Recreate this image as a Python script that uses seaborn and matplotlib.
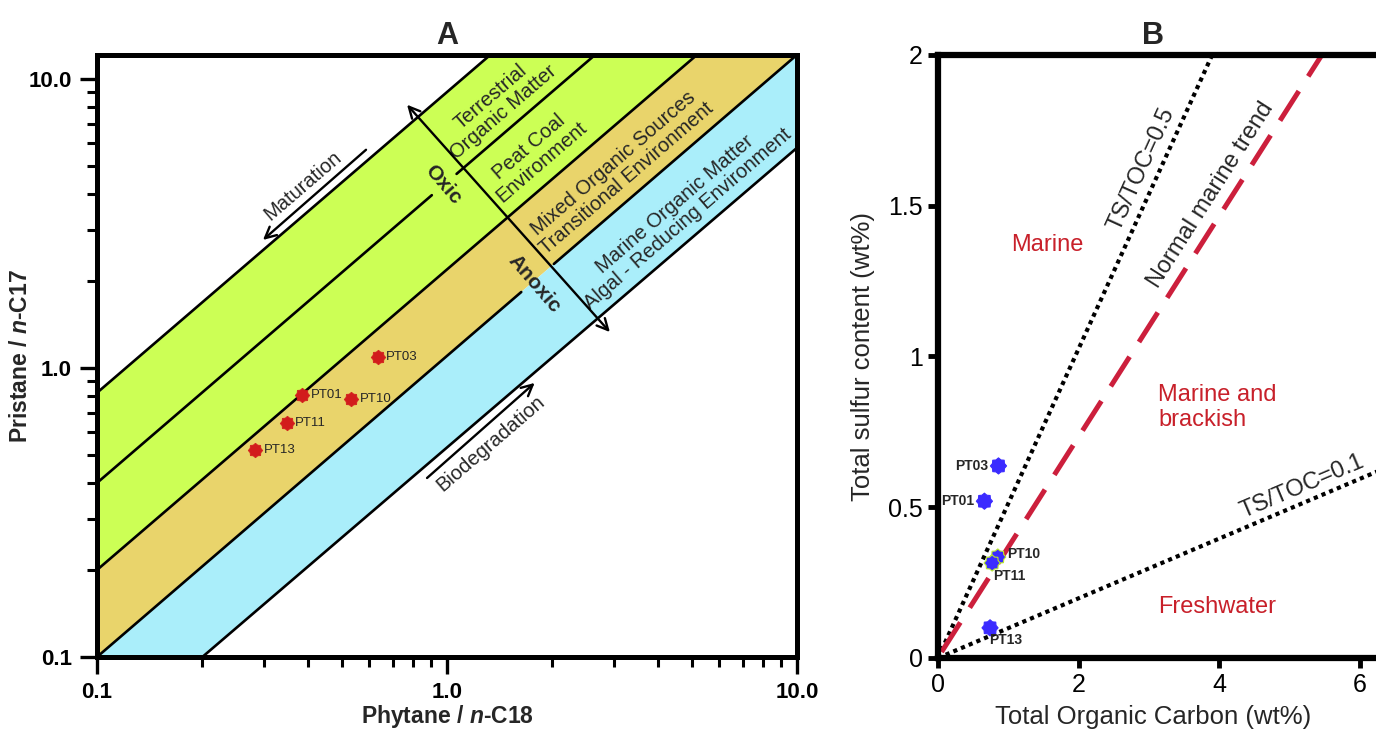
import numpy as np
import matplotlib
matplotlib.use("Agg")
import matplotlib.pyplot as plt
from matplotlib.path import Path
from matplotlib.ticker import LogLocator, NullFormatter
import seaborn as sns

# ---- Panel A: Pr/n-C17 vs Ph/n-C18 ----
samplesA = ["PT03", "PT01", "PT10", "PT11", "PT13"]
phytaneC18 = [0.635, 0.386, 0.532, 0.349, 0.283]
pristaneC17 = [1.09, 0.806, 0.782, 0.646, 0.520]

# zone boundaries, straight lines in log-log space (start / end points)
boundX0 = [0.1, 0.1, 0.1, 0.1, 0.2]
boundY0 = [0.82, 0.40, 0.20, 0.10, 0.10]
boundX1 = [1.33, 2.65, 5.18, 10.0, 10.0]
boundY1 = [12.1, 12.1, 12.1, 12.1, 5.77]

zoneLabels = [
    "Terrestrial\nOrganic Matter",
    "Peat Coal\nEnvironment",
    "Mixed Organic Sources\nTransitional Environment",
    "Marine Organic Matter\nAlgal - Reducing Environment",
]
zoneLabelX = [1.39, 1.79, 3.12, 4.66]
zoneLabelY = [8.13, 5.47, 4.82, 3.48]

ticksA = [0.1, 1.0, 10.0]
tickLabelsA = ["0.1", "1.0", "10.0"]

# ---- Panel B: TS vs TOC ----
samplesB = ["PT03", "PT01", "PT10", "PT11", "PT13"]
tocWt = [0.86, 0.66, 0.85, 0.77, 0.74]
tsWt = [0.637, 0.52, 0.335, 0.315, 0.10]

ts05X = [0.0, 3.9]
ts05Y = [0.0, 2.0]
marineX = [0.05, 5.46]
marineY = [0.02, 2.0]
ts01X = [0.0, 7.0]
ts01Y = [0.0, 0.693]

ticksBx = [0, 2, 4, 6]
ticksBy = [0, 0.5, 1, 1.5, 2]
tickLabelsBy = ["0", "0.5", "1", "1.5", "2"]

GREEN = "#ccff55"
ORANGE = "#e9d46b"
BLUE = "#aaeefa"
RED_PT = "#d21c1c"
BLUE_PT = "#3b2bff"
RED_TXT = "#c8202a"
RED_DASH = "#cc1f3c"

sns.set_theme(style="white")
plt.rcParams["font.family"] = ["Liberation Sans", "DejaVu Sans"]
plt.rcParams["mathtext.fontset"] = "custom"
plt.rcParams["mathtext.rm"] = "Liberation Sans"
plt.rcParams["mathtext.it"] = "Liberation Sans:italic"
plt.rcParams["mathtext.bf"] = "Liberation Sans:bold"
plt.rcParams["mathtext.bfit"] = "Liberation Sans:italic:bold"

# octagram badge marker
ang = np.pi / 2 + np.arange(16) * np.pi / 8
rad = np.where(np.arange(16) % 2 == 0, 1.0, 0.8)
verts = np.column_stack([rad * np.cos(ang), rad * np.sin(ang)])
verts = np.vstack([verts, verts[:1]])
badge = Path(verts, closed=True)


def logY(i, x):
    k = np.log(boundY1[i] / boundY0[i]) / np.log(boundX1[i] / boundX0[i])
    return boundY0[i] * (x / boundX0[i]) ** k


def dispAngle(ax, x0, y0, x1, y1):
    p = ax.transData.transform([(x0, y0), (x1, y1)])
    return np.degrees(np.arctan2(p[1, 1] - p[0, 1], p[1, 0] - p[0, 0]))


fig = plt.figure(figsize=(13.76, 7.29), dpi=100)
axA = fig.add_axes([0.0705, 0.0988, 0.5087, 0.826])
axB = fig.add_axes([0.6817, 0.0974, 0.3576, 0.8272])

# ================= Panel A =================
axA.set_xscale("log")
axA.set_yscale("log")
axA.set_xlim(0.1, 10)
axA.set_ylim(0.1, 12.1)


def zone(a, b, color):
    px = [boundX0[a], boundX1[a], boundX1[b], boundX0[b]]
    py = [boundY0[a], boundY1[a], boundY1[b], boundY0[b]]
    axA.fill(px, py, color=color, lw=0, zorder=1)


zone(0, 2, GREEN)
zone(2, 3, ORANGE)
zone(3, 4, BLUE)

# gaps in lines where the Oxic / Anoxic words sit
gaps = {1: (0.905, 1.065), 3: (1.63, 2.02)}
for i in range(len(boundX0)):
    if i in gaps:
        g0, g1 = gaps[i]
        axA.plot([boundX0[i], g0], [boundY0[i], logY(i, g0)], color="black", lw=1.9, zorder=2)
        axA.plot([g1, boundX1[i]], [logY(i, g1), boundY1[i]], color="black", lw=1.9, zorder=2)
    else:
        axA.plot([boundX0[i], boundX1[i]], [boundY0[i], boundY1[i]], color="black", lw=1.9, zorder=2)

lineAng = dispAngle(axA, boundX0[3], boundY0[3], boundX1[3], boundY1[3])

for lab, x, y in zip(zoneLabels, zoneLabelX, zoneLabelY):
    axA.text(x, y, lab, rotation=lineAng, rotation_mode="anchor", ha="center",
             va="center", fontsize=14.5, linespacing=1.05, zorder=3)

axA.text(0.974, 4.3, "Oxic", rotation=lineAng - 90, rotation_mode="anchor",
         ha="center", va="center", fontsize=15, fontweight="bold", zorder=3)
axA.text(1.78, 1.96, "Anoxic", rotation=lineAng - 90, rotation_mode="anchor",
         ha="center", va="center", fontsize=15, fontweight="bold", zorder=3)

# oxic / anoxic double arrow
axA.annotate("", xy=(2.92, 1.33), xytext=(0.769, 8.13),
             arrowprops=dict(arrowstyle="<->", lw=1.7, color="black",
                             mutation_scale=20, shrinkA=0, shrinkB=0), zorder=3)
# maturation
axA.annotate("", xy=(0.298, 2.77), xytext=(0.587, 5.68),
             arrowprops=dict(arrowstyle="->", lw=1.7, color="black",
                             mutation_scale=20, shrinkA=0, shrinkB=0), zorder=3)
axA.text(0.388, 4.25, "Maturation", rotation=lineAng, rotation_mode="anchor",
         ha="center", va="center", fontsize=14.5)
# biodegradation
axA.annotate("", xy=(1.78, 0.887), xytext=(0.877, 0.416),
             arrowprops=dict(arrowstyle="->", lw=1.7, color="black",
                             mutation_scale=20, shrinkA=0, shrinkB=0), zorder=3)
axA.text(1.33, 0.547, "Biodegradation", rotation=lineAng, rotation_mode="anchor",
         ha="center", va="center", fontsize=14.5)

sns.scatterplot(x=phytaneC18, y=pristaneC17, ax=axA, marker=badge, s=110,
                color=RED_PT, edgecolor=RED_PT, linewidth=0.5, zorder=4)
for lab, x, y in zip(samplesA, phytaneC18, pristaneC17):
    axA.annotate(lab, (x, y), xytext=(6, 0), textcoords="offset points",
                 ha="left", va="center", fontsize=9.5, zorder=5)

axA.set_xticks(ticksA, tickLabelsA)
axA.set_yticks(ticksA, tickLabelsA)
for axis in (axA.xaxis, axA.yaxis):
    axis.set_minor_locator(LogLocator(base=10, subs=np.arange(2, 10)))
    axis.set_minor_formatter(NullFormatter())
axA.tick_params(which="major", direction="out", length=12, width=2.4,
                labelsize=16, pad=6, bottom=True, left=True, colors="black")
axA.tick_params(which="minor", direction="out", length=7, width=2.2,
                bottom=True, left=True, colors="black")
for t in axA.get_xticklabels() + axA.get_yticklabels():
    t.set_fontweight("bold")
for sp in axA.spines.values():
    sp.set_linewidth(3.6)
    sp.set_color("black")
axA.set_xlabel(r"Phytane / $\mathbfit{n}$-C18", fontsize=16.5, fontweight="bold")
axA.set_ylabel(r"Pristane / $\mathbfit{n}$-C17", fontsize=16.5, fontweight="bold")
axA.xaxis.set_label_coords(0.5, -0.077)
axA.yaxis.set_label_coords(-0.093, 0.5)
axA.set_title("A", fontsize=22, fontweight="bold", pad=8)

# ================= Panel B =================
axB.set_xlim(0, 7)
axB.set_ylim(0, 2)

axB.plot(ts05X, ts05Y, color="black", lw=3, linestyle=(0, (1, 1)), zorder=2)
axB.plot(ts01X, ts01Y, color="black", lw=3, linestyle=(0, (1, 1)), zorder=2)
axB.plot(marineX, marineY, color=RED_DASH, lw=3.6, linestyle=(0, (7, 3.5)), zorder=2)

ang05 = dispAngle(axB, ts05X[0], ts05Y[0], ts05X[1], ts05Y[1])
angMar = dispAngle(axB, marineX[0], marineY[0], marineX[1], marineY[1])
ang01 = dispAngle(axB, ts01X[0], ts01Y[0], ts01X[1], ts01Y[1])
axB.text(2.9, 1.62, "TS/TOC=0.5", rotation=ang05, rotation_mode="anchor",
         ha="center", va="center", fontsize=17)
axB.text(3.88, 1.535, "Normal marine trend", rotation=angMar, rotation_mode="anchor",
         ha="center", va="center", fontsize=17)
axB.text(5.18, 0.567, "TS/TOC=0.1", rotation=ang01, rotation_mode="anchor",
         ha="center", va="center", fontsize=17)

axB.text(1.56, 1.37, "Marine", color=RED_TXT, fontsize=17, ha="center", va="center")
axB.text(3.13, 0.83, "Marine and\nbrackish", color=RED_TXT, fontsize=17,
         ha="left", va="center", linespacing=1.15)
axB.text(3.13, 0.17, "Freshwater", color=RED_TXT, fontsize=17, ha="left", va="center")

edgeB = [BLUE_PT, BLUE_PT, "#b8e830", "#b8e830", BLUE_PT]
sns.scatterplot(x=tocWt, y=tsWt, ax=axB, marker=badge, s=135, color=BLUE_PT,
                edgecolor=edgeB, linewidth=0.8, zorder=4)
offB = {"PT03": (-7, 0, "right", "center"), "PT01": (-7, 0, "right", "center"),
        "PT10": (7, 2, "left", "center"), "PT11": (1, -9, "left", "center"),
        "PT13": (-1, -9, "left", "center")}
for lab, x, y in zip(samplesB, tocWt, tsWt):
    dx, dy, ha, va = offB[lab]
    axB.annotate(lab, (x, y), xytext=(dx, dy), textcoords="offset points",
                 ha=ha, va=va, fontsize=10, fontweight="bold", zorder=5)

axB.set_xticks(ticksBx, [str(v) for v in ticksBx])
axB.set_yticks(ticksBy, tickLabelsBy)
axB.tick_params(direction="out", length=7, width=3.5, labelsize=18, pad=4,
                bottom=True, left=True, colors="black")
for name, sp in axB.spines.items():
    sp.set_linewidth(4.5)
    sp.set_color("black")
axB.spines["right"].set_visible(False)
axB.set_xlabel("Total Organic Carbon (wt%)", fontsize=18.5)
axB.set_ylabel("Total sulfur content (wt%)", fontsize=18.5)
axB.xaxis.set_label_coords(0.437, -0.078)
axB.yaxis.set_label_coords(-0.128, 0.5)
axB.set_title("B", fontsize=22, fontweight="bold", x=0.437, pad=8)

fig.savefig("out.png", dpi=100)
plt.close(fig)
